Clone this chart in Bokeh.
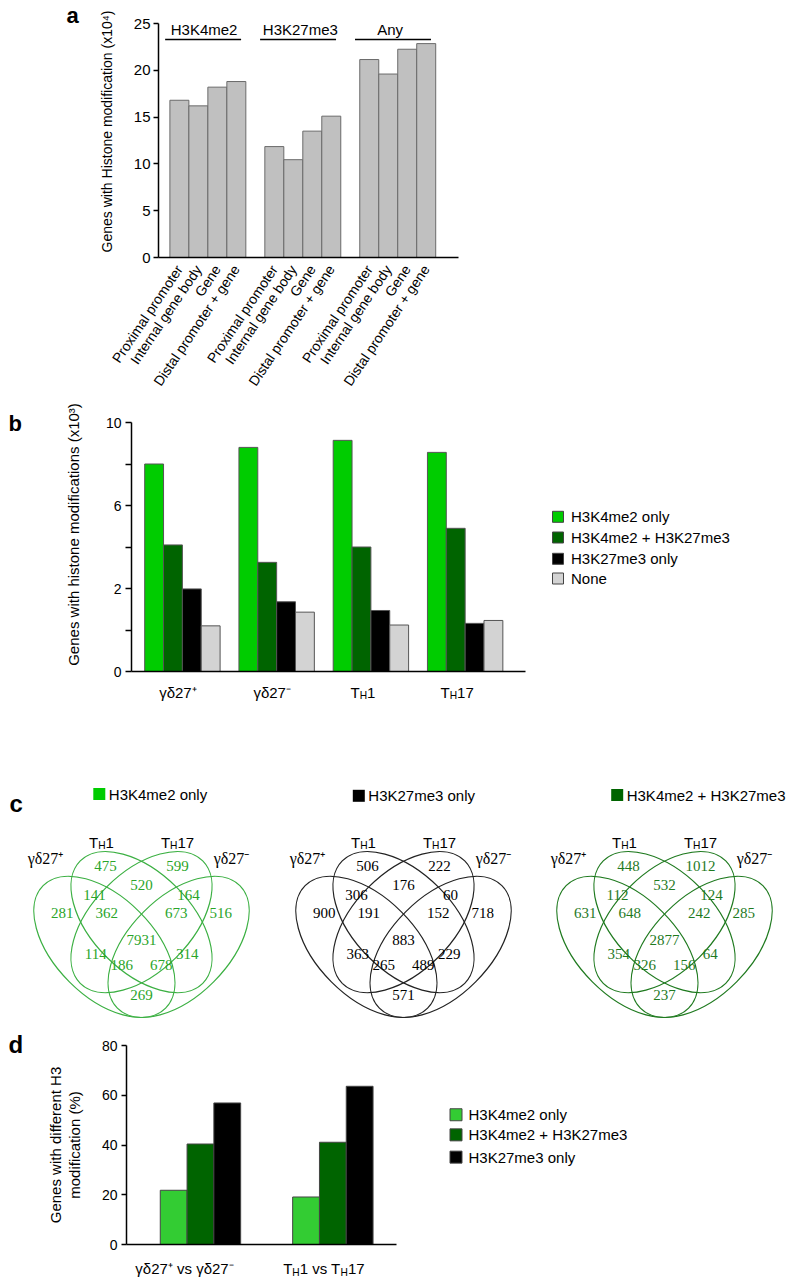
import math
from bokeh.plotting import figure
from bokeh.models import Range1d, FixedTicker, LinearAxis
from bokeh.embed import file_html
from bokeh.resources import INLINE
from bokeh.core.properties import value

SANS = "Liberation Sans"
SERIF = "Liberation Serif"

# ------------------------------------------------------------------ data
# panel a
a_groups = ["H3K4me2", "H3K27me3", "Any"]
a_regions = ["Proximal promoter", "Internal gene body", "Gene", "Distal promoter + gene"]
a_h3k4me2 = [16.8, 16.2, 18.2, 18.8]
a_h3k27me3 = [11.85, 10.45, 13.5, 15.1]
a_any = [21.15, 19.6, 22.25, 22.85]
a_yticks = [0, 5, 10, 15, 20, 25]

# panel b (axis is non-linear: values are given in axis position units 0..6)
b_cells = ["γδ27⁺", "γδ27⁻", "T_H1", "T_H17"]
b_series = ["H3K4me2 only", "H3K4me2 + H3K27me3", "H3K27me3 only", "None"]
b_k4_only = [5.0, 5.4, 5.57, 5.28]
b_both = [3.05, 2.63, 3.0, 3.45]
b_k27_only = [1.99, 1.68, 1.47, 1.16]
b_none = [1.1, 1.43, 1.12, 1.23]
b_ytick_labels = ["0", "", "2", "", "6", "", "10"]

# panel c (regions of 4-set Venn: A=γδ27⁺, B=TH1, C=TH17, D=γδ27⁻)
c_titles = ["H3K4me2 only", "H3K27me3 only", "H3K4me2 + H3K27me3"]
c_set_labels = ["γδ27⁺", "T_H1", "T_H17", "γδ27⁻"]
c_regions = ["B", "C", "BC", "AB", "CD", "A", "D", "ABC", "BCD",
             "ABCD", "AC", "BD", "ACD", "ABD", "AD"]
c_k4_only = [475, 599, 520, 141, 164, 281, 516, 362, 673, 7931, 114, 314, 186, 678, 269]
c_k27_only = [506, 222, 176, 306, 60, 900, 718, 191, 152, 883, 363, 229, 265, 489, 571]
c_both = [448, 1012, 532, 112, 124, 631, 285, 648, 242, 2877, 354, 64, 326, 156, 237]

# panel d
d_pairs = ["γδ27⁺ vs γδ27⁻", "T_H1 vs T_H17"]
d_series = ["H3K4me2 only", "H3K4me2 + H3K27me3", "H3K27me3 only"]
d_k4_only = [21.8, 19.1]
d_both = [40.4, 41.1]
d_k27_only = [56.9, 63.6]
d_yticks = [0, 20, 40, 60, 80]

# ------------------------------------------------------------------ canvas
W, H = 800, 1282
p = figure(width=W, height=H, x_range=Range1d(0, W), y_range=Range1d(0, H),
           x_axis_type=None, y_axis_type=None, output_backend="svg",
           toolbar_location=None, min_border=0, title=None)
p.outline_line_color = None


def cx(px):  # page x -> canvas units
    return px


def cy(py):  # page y -> canvas units
    return H - py


class Panel:
    """Data ranges of one panel, laid over the full canvas."""

    def __init__(self, name, xp0, xv0, xp1, xv1, yp0, yv0, yp1, yv1):
        self.name = name
        self.xp0, self.xv0 = xp0, xv0
        self.yp0, self.yv0 = yp0, yv0
        self.sx = (xv1 - xv0) / (xp1 - xp0)
        self.sy = (yv1 - yv0) / (yp1 - yp0)
        p.extra_x_ranges = {**p.extra_x_ranges, name: Range1d(self.x(0), self.x(W))}
        p.extra_y_ranges = {**p.extra_y_ranges, name: Range1d(self.y(H), self.y(0))}
        self.kw = dict(x_range_name=name, y_range_name=name)

    def x(self, px):
        return self.xv0 + (px - self.xp0) * self.sx

    def y(self, py):
        return self.yv0 + (py - self.yp0) * self.sy


def style_axis(ax, size):
    ax.axis_line_color = "black"
    ax.axis_line_width = 1.5
    ax.major_tick_line_color = "black"
    ax.major_tick_line_width = 1.5
    ax.minor_tick_line_color = None
    ax.major_label_text_font = SANS
    ax.major_label_text_font_size = f"{size}px"
    ax.major_label_text_color = "black"


EM = {'T': .611, 'H': .722, '1': .556, '7': .556, ' ': .278, 'v': .5, 's': .5,
      'γ': .5, 'δ': .556, '2': .556, '⁺': .4, '⁻': .4}


def parse(text):
    segs, cur, i = [], "", 0
    while i < len(text):
        if text[i] == "_" and i + 1 < len(text):
            if cur:
                segs.append((cur, False))
                cur = ""
            segs.append((text[i + 1], True))
            i += 2
        else:
            cur += text[i]
            i += 1
    if cur:
        segs.append((cur, False))
    return segs


def rich_text(x, y, text, size, font=SANS, dx=0.0, color="black", rkw=None):
    """Centered text whose '_X' parts are subscripts; y is the baseline."""
    rkw = rkw or {}
    segs = parse(text)
    sub = size * 0.68
    widths = [sum(EM.get(c, .556) for c in s) * (sub if is_sub else size) for s, is_sub in segs]
    cur = dx - sum(widths) / 2
    for (s, is_sub), w in zip(segs, widths):
        p.text(x=[x], y=[y], text=[s], x_offset=cur, y_offset=(size * 0.22 if is_sub else 0),
               text_font=value(font), text_font_size=f"{sub if is_sub else size:.1f}px",
               text_align="left", text_baseline="alphabetic", text_color=color, **rkw)
        cur += w


def page_text(px, py, text, size, font=SANS, align="center", baseline="middle",
              angle=0.0, bold=False, color="black"):
    p.text(x=[cx(px)], y=[cy(py)], text=[text], text_font=value(font),
           text_font_size=f"{size}px", text_align=align, text_baseline=baseline,
           angle=angle, text_color=color, text_font_style="bold" if bold else "normal")


# ------------------------------------------------------------------ panel a
A = Panel("a", 158, 0, 458, 15.8, 257, 0, 23, 25)
a_off = [0.6, 5.6, 10.6]
a_vals = [a_h3k4me2, a_h3k27me3, a_any]
a_x, a_top, a_lab = [], [], []
for g, vals in enumerate(a_vals):
    for i, v in enumerate(vals):
        a_x.append(a_off[g] + i + 0.5)
        a_top.append(v)
        a_lab.append(a_regions[i])
p.vbar(x=a_x, top=a_top, width=1.0, bottom=0, fill_color="#c0c0c0",
       line_color="#6a6a6a", line_width=1, **A.kw)
ay = LinearAxis(fixed_location=0, bounds=(0, 25), ticker=FixedTicker(ticks=a_yticks), **A.kw)
style_axis(ay, 15)
ay.major_tick_out = 5
ay.major_tick_in = 0
ay.major_label_standoff = 3
p.add_layout(ay, "left")
ax = LinearAxis(fixed_location=0, bounds=(0, 15.8), ticker=FixedTicker(ticks=a_x), **A.kw)
style_axis(ax, 14)
ax.major_label_overrides = {x: l for x, l in zip(a_x, a_lab)}
ax.major_label_orientation = math.radians(56)
ax.major_tick_out = 0
ax.major_tick_in = 0
ax.major_label_standoff = 9
p.add_layout(ax, "below")

hdr_x = [2.4, 7.47, 12.2]
p.text(x=hdr_x, y=[A.y(29.3)] * 3, text=a_groups, text_font=value(SANS),
       text_font_size="15px", text_align="center", text_baseline="middle",
       text_color="black", **A.kw)
p.segment(x0=[o - 0.25 for o in a_off], x1=[o + 3.75 for o in a_off],
          y0=[A.y(39)] * 3, y1=[A.y(39)] * 3, line_color="black", line_width=1.5, **A.kw)
page_text(106.7, 131, "Genes with Histone modification (x10⁴)", 14, angle=math.pi / 2)
page_text(66, 15, "a", 22, align="left", bold=True)

# ------------------------------------------------------------------ panel b
B = Panel("b", 131, 0, 131 + 18.85, 1, 671, 0, 422, 6)
b_colors = ["#00cc00", "#006400", "#000000", "#d3d3d3"]
b_vals = [b_k4_only, b_both, b_k27_only, b_none]
b_off = [0.7 + 5 * g for g in range(4)]
for s, vals in enumerate(b_vals):
    p.vbar(x=[b_off[g] + s + 0.5 for g in range(4)], top=vals, width=1.0, bottom=0,
           fill_color=b_colors[s], line_color="#555555", line_width=1, **B.kw)
by = LinearAxis(fixed_location=0, bounds=(0, 6), ticker=FixedTicker(ticks=list(range(7))),
                **B.kw)
style_axis(by, 14)
by.major_label_overrides = {i: l for i, l in enumerate(b_ytick_labels)}
by.major_tick_out = 6
by.major_tick_in = 0
by.major_label_standoff = 4
p.add_layout(by, "left")
bx = LinearAxis(fixed_location=0, bounds=(0, B.x(525)), ticker=FixedTicker(ticks=[]), **B.kw)
style_axis(bx, 14)
bx.major_tick_line_color = None
p.add_layout(bx, "below")
for g, name in enumerate(b_cells):
    dx = -4 if "_" not in name else -8
    rich_text(b_off[g] + 2, B.y(692), name, 15, dx=dx, rkw=B.kw)
page_text(72.7, 534, "Genes with histone modifications (x10³)", 15, angle=math.pi / 2)
page_text(8, 423, "b", 22, align="left", bold=True)

leg_rows = [516.3, 537, 558.3, 578]
p.scatter(x=[cx(557.5)] * 4, y=[cy(r) for r in leg_rows], marker="square", size=11,
          fill_color=b_colors, line_color="#444444", line_width=1)
p.text(x=[cx(570.5)] * 4, y=[cy(r) for r in leg_rows], text=b_series,
       text_font=value(SANS), text_font_size="15px", text_baseline="middle",
       text_align="left", text_color="black")

# ------------------------------------------------------------------ panel c
S = 247.5
VY = 938.9
venn_cx = [141, 403, 664]
venn_line = ["#3cb043", "#222222", "#1f7a1f"]
venn_text = ["#2aa52a", "#000000", "#1f7a1f"]
venn_key = ["#00cc00", "#000000", "#006400"]
venn_counts = [c_k4_only, c_k27_only, c_both]
ell_u = [0.35, 0.5, 0.5, 0.65]
ell_v = [0.47, 0.57, 0.57, 0.47]
ell_ang = [135, 135, 45, 45]
reg_uv = [(0.355, 0.798), (0.645, 0.798), (0.5, 0.718), (0.31, 0.681), (0.69, 0.681),
          (0.18, 0.606), (0.82, 0.606), (0.36, 0.606), (0.64, 0.606), (0.5, 0.497),
          (0.315, 0.442), (0.685, 0.442), (0.42, 0.398), (0.58, 0.398), (0.5, 0.276)]
set_dx = [-96, -40, 36, 90]
set_y = [857.5, 836.7, 836.7, 857.5]
for k, vx in enumerate(venn_cx):
    p.ellipse(x=[cx(vx + (u - 0.5) * S) for u in ell_u],
              y=[cy(VY - (v - 0.5) * S) for v in ell_v],
              width=0.7 * S, height=0.4 * S, angle=[math.radians(a) for a in ell_ang],
              fill_color=None, line_color=venn_line[k], line_width=1.2)
    p.text(x=[cx(vx + (u - 0.5) * S) for u, v in reg_uv],
           y=[cy(VY - (v - 0.5) * S) for u, v in reg_uv],
           text=[str(n) for n in venn_counts[k]], text_font=value(SERIF),
           text_font_size="15px", text_align="center", text_baseline="middle",
           text_color=venn_text[k])
    for j, name in enumerate(c_set_labels):
        if "_" in name:
            rich_text(cx(vx + set_dx[j]), cy(set_y[j] + 5.4), name, 15)
        else:
            page_text(vx + set_dx[j], set_y[j], name, 16, font=SERIF)
key_x = [98.8, 358.3, 616.7]
key_y = [793.5, 795.3, 794.5]
p.scatter(x=[cx(v) for v in key_x], y=[cy(v) for v in key_y], marker="square", size=12,
          fill_color=venn_key, line_color=None)
p.text(x=[cx(v + 9.5) for v in key_x], y=[cy(v) for v in key_y], text=c_titles,
       text_font=value(SANS), text_font_size="15px", text_baseline="middle",
       text_align="left", text_color="black")
page_text(9, 803, "c", 24, align="left", bold=True)

# ------------------------------------------------------------------ panel d
D_TOP, D_BOT = 1045, 1244
D = Panel("d", 126, 0, 126 + 26.8, 1, D_BOT, 0, D_TOP, 80)
d_colors = ["#33cc33", "#006400", "#000000"]
d_vals = [d_k4_only, d_both, d_k27_only]
d_off = [1.26, 6.2]
for s, vals in enumerate(d_vals):
    p.vbar(x=[d_off[g] + s + 0.5 for g in range(2)], top=vals, width=1.0, bottom=0,
           fill_color=d_colors[s], line_color="#444444", line_width=1, **D.kw)
dy = LinearAxis(fixed_location=0, bounds=(0, 80), ticker=FixedTicker(ticks=d_yticks), **D.kw)
style_axis(dy, 14)
dy.major_tick_out = 5
dy.major_tick_in = 0
dy.major_label_standoff = 4
p.add_layout(dy, "left")
dxa = LinearAxis(fixed_location=0, bounds=(0, D.x(396)), ticker=FixedTicker(ticks=[]), **D.kw)
style_axis(dxa, 14)
dxa.major_tick_line_color = None
p.add_layout(dxa, "below")
d_dx = [-15, -9]
for g, name in enumerate(d_pairs):
    rich_text(d_off[g] + 1.5, D.y(D_BOT + 19 + 5.4), name, 15, dx=d_dx[g], rkw=D.kw)
ymid = (D_TOP + D_BOT) / 2
page_text(55, ymid, "Genes with different H3", 15, angle=math.pi / 2)
page_text(74, ymid, "modification (%)", 15, angle=math.pi / 2)
page_text(8, D_TOP - 1, "d", 24, align="left", bold=True)

d_rows = [D_TOP + f * (D_BOT - D_TOP) for f in (0.348, 0.449, 0.561)]
p.scatter(x=[cx(455.5)] * 3, y=[cy(r) for r in d_rows], marker="square", size=12,
          fill_color=d_colors, line_color="#444444", line_width=1)
p.text(x=[cx(468)] * 3, y=[cy(r) for r in d_rows], text=d_series,
       text_font=value(SANS), text_font_size="15px", text_baseline="middle",
       text_align="left", text_color="black")

open("out.html", "w").write(file_html(p, INLINE))
